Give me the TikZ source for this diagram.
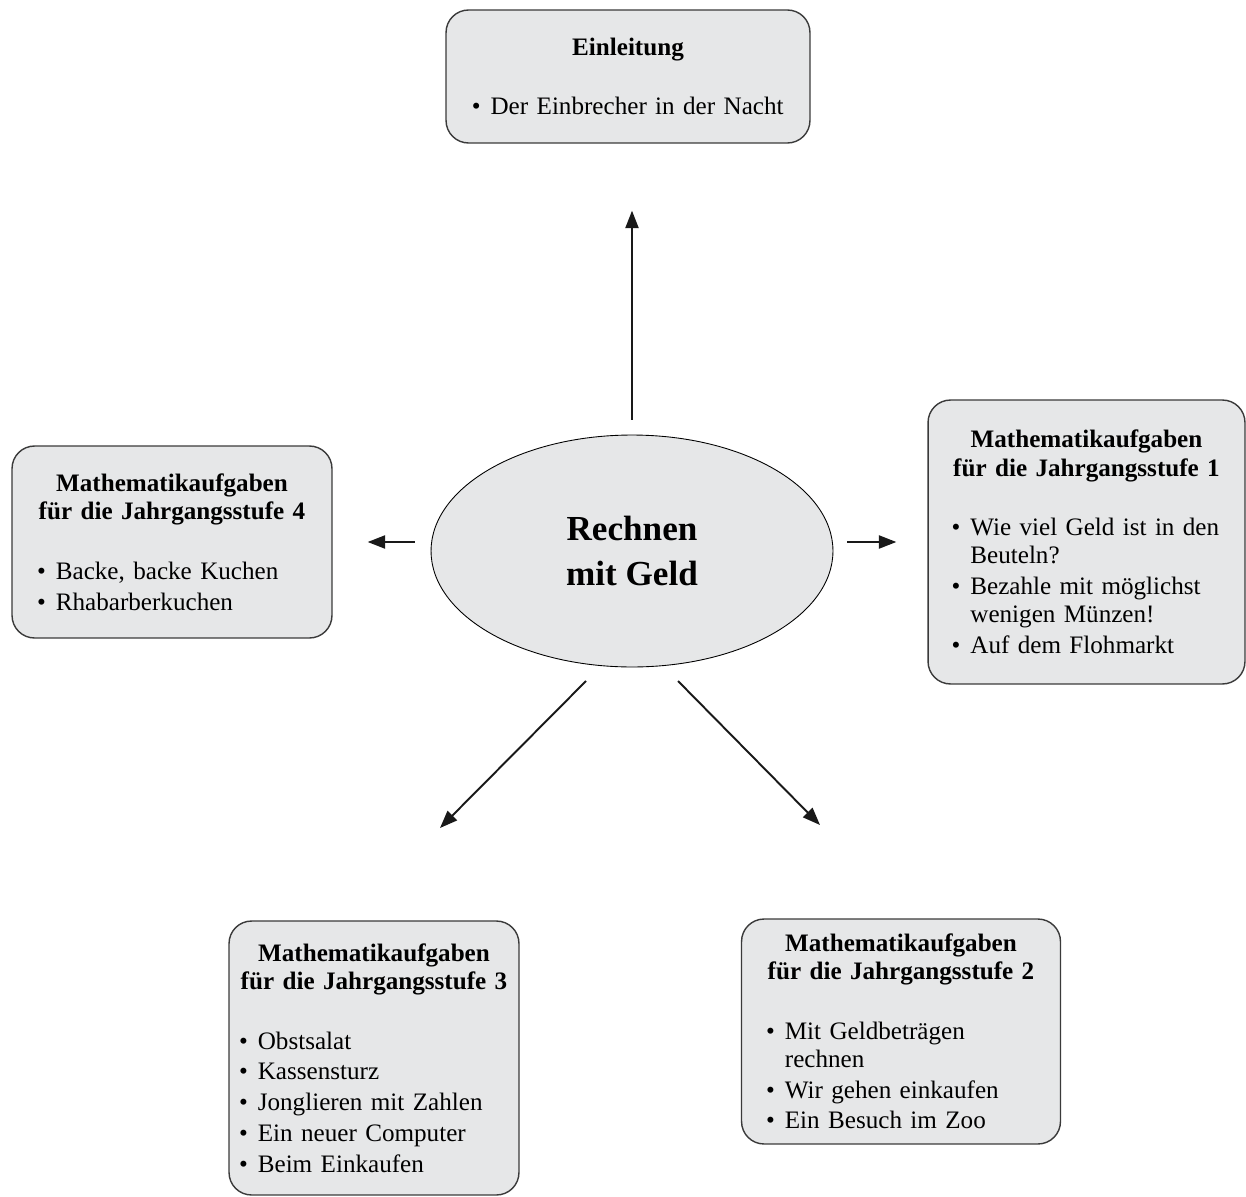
\documentclass[tikz,border=0pt]{standalone}
\usepackage{fontspec}
\setmainfont{Liberation Serif}
\usepackage{tikz}
\usetikzlibrary{shapes.geometric, arrows.meta, calc}
\definecolor{kastengrau}{HTML}{E6E7E8}
\definecolor{randgrau}{HTML}{3A3A3A}
\newcommand{\kopf}[1]{{\centering\bfseries #1\par}\vspace{18pt}}
\newcommand{\punkt}[1]{\par\hangindent=0.75em\hangafter=1\noindent\makebox[0.75em][l]{\textbullet}#1\par\vspace{1.5pt}}
\tikzset{
	kasten/.style={
			rectangle,
			draw=randgrau,
			line width=0.8pt,
			fill=kastengrau,
			rounded corners=0.45cm,
			inner sep=0pt,
			text width=5.4cm,
			align=left,
			font=\fontsize{14.3}{16}\selectfont
		},
	mittelpunkt/.style={
			ellipse,
			draw=black,
			line width=0.5pt,
			fill=kastengrau,
			minimum width=8.04cm,
			minimum height=4.64cm,
			inner sep=0pt,
			align=center,
			font=\bfseries\fontsize{20}{26}\selectfont
		},
	pfeil/.style={
			line width=1.1pt,
			draw=black!90,
			-{Triangle[length=10pt,width=7.5pt]}
		}
}

\begin{document}
\begin{tikzpicture}[x=0.02cm, y=-0.02cm]
\useasboundingbox (0,0) rectangle (1246,1196);

\node[mittelpunkt] (geld) at (632,551) {Rechnen\\mit Geld};

\node[kasten, minimum width=7.28cm, minimum height=2.66cm, text width=6.25cm] (einl) at (628,76.5)
{\kopf{Einleitung}\punkt{Der Einbrecher in der Nacht}};
\node[kasten, minimum width=6.34cm, minimum height=5.68cm] (stufe1) at (1086.5,542)
{\kopf{Mathematikaufgaben\\für die Jahrgangsstufe 1}
\punkt{Wie viel Geld ist in den\newline Beuteln?}
\punkt{Bezahle mit möglichst\newline wenigen Münzen!}
\punkt{Auf dem Flohmarkt}};
\node[kasten, minimum width=6.38cm, minimum height=4.5cm] (stufe2) at (901,1031.5)
{\kopf{Mathematikaufgaben\\für die Jahrgangsstufe 2}
\punkt{Mit Geldbeträgen\newline rechnen}
\punkt{Wir gehen einkaufen}
\punkt{Ein Besuch im Zoo}};
\node[kasten, minimum width=5.8cm, minimum height=5.48cm] (stufe3) at (374,1058)
{\kopf{Mathematikaufgaben\\für die Jahrgangsstufe 3}
\punkt{Obstsalat}
\punkt{Kassensturz}
\punkt{Jonglieren mit Zahlen}
\punkt{Ein neuer Computer}
\punkt{Beim Einkaufen}};
\node[kasten, minimum width=6.4cm, minimum height=3.84cm] (stufe4) at (172,542)
{\kopf{Mathematikaufgaben\\für die Jahrgangsstufe 4}
\punkt{Backe, backe Kuchen}
\punkt{Rhabarberkuchen}};

\coordinate (ab3) at (586,681);
\coordinate (an3) at (440,828);
\coordinate (ab2) at (678,681);
\coordinate (an2) at (820,825);

\draw[pfeil, shorten <=0.3cm, shorten >=1.34cm] (geld.north) -- (geld.north |- einl.south);
\draw[pfeil, shorten <=0.32cm, shorten >=0.7cm] (stufe4.east -| geld.west) -- (stufe4.east);
\draw[pfeil, shorten <=0.28cm, shorten >=0.62cm] (stufe1.west -| geld.east) -- (stufe1.west);
\draw[pfeil] (ab3) -- (an3);
\draw[pfeil] (ab2) -- (an2);
\end{tikzpicture}
\end{document}
